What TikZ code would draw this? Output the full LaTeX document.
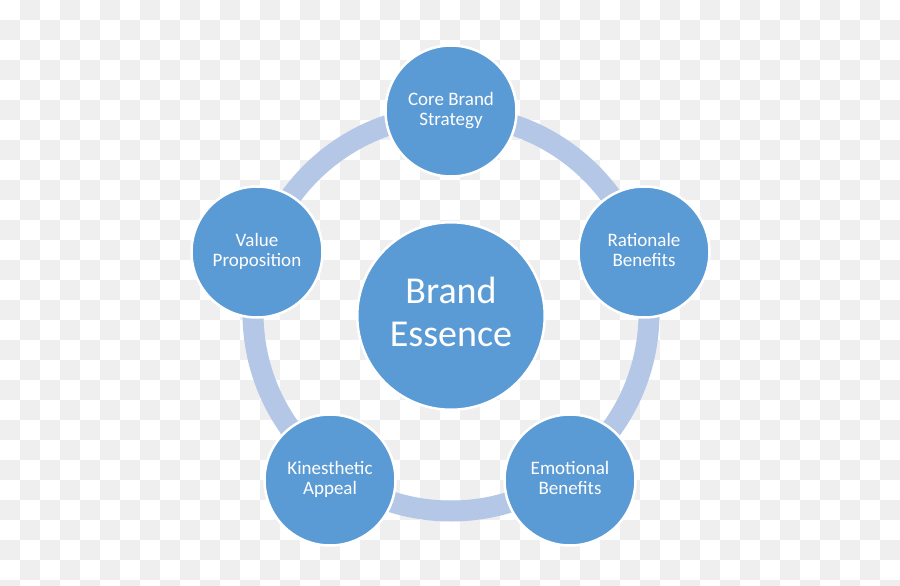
\documentclass[tikz,border=0pt]{standalone}
\usepackage{fontspec}
\setmainfont{Carlito}
\definecolor{nodeblue}{HTML}{5B9BD5}
\definecolor{ringblue}{HTML}{B4C7E7}
\definecolor{checkgray}{HTML}{EFEFEF}
\tikzset{
  smallc/.style={circle, fill=nodeblue, draw=white, line width=2.5pt,
    minimum size=131pt, inner sep=0pt, text=white, align=center,
    font=\fontsize{19}{20}\selectfont, yshift=-2pt},
  bigc/.style={circle, fill=nodeblue, draw=white, line width=2.5pt,
    minimum size=187.5pt, inner sep=0pt, text=white, align=center,
    font=\fontsize{38}{43.3}\selectfont},
  ring/.style={draw=ringblue, line width=21pt},
  checksq/.style={fill=checkgray}
}
\begin{document}
\begin{tikzpicture}[x=1pt,y=-1pt]
\useasboundingbox (0,0) rectangle (900,586);
\fill[white] (0,0) rectangle (900,586);
\foreach \i in {0,...,44}{
  \foreach \j in {0,...,29}{
    \ifodd\numexpr\i+\j\relax
      \fill[checksq] (20*\i,20*\j) rectangle (20*\i+20,20*\j+20);
    \fi
  }
}
\coordinate (ctr) at (451,313);
\draw[ring] (ctr) circle[radius=198];
\node[bigc, yshift=-3pt] (essence) at (ctr) {\strut Brand\\\strut Essence};
\node[smallc] (core) at (451,109) {\strut Core Brand\\\strut Strategy};
\node[smallc] (rational) at (644,250) {\strut Rationale\\\strut Benefits};
\node[smallc] (value) at (257,250) {\strut Value\\\strut Proposition};
\node[smallc] (kines) at (330,478) {\strut Kinesthetic\\\strut Appeal};
\node[smallc] (emot) at (570,478) {\strut Emotional\\\strut Benefits};
\end{tikzpicture}
\end{document}
